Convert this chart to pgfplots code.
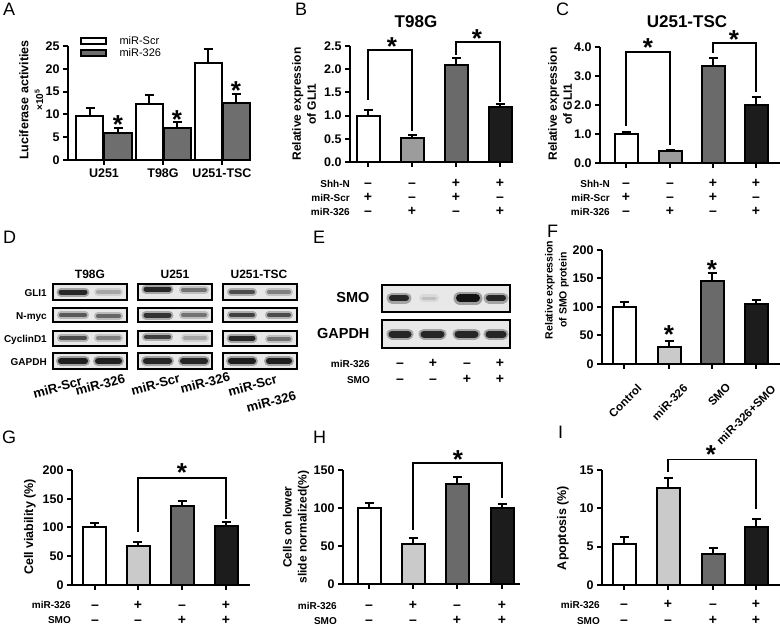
\documentclass[border=0pt]{standalone}
\usepackage{pgfplots}
\pgfplotsset{compat=1.18}
\usepackage{fontspec}
\setmainfont{Liberation Sans}
\newcommand\fs[2]{\fontsize{#1}{#2}\selectfont}
\definecolor{gA}{HTML}{6E6E6E}
\definecolor{gB}{HTML}{9C9C9C}
\definecolor{gC}{HTML}{6A6A6A}
\definecolor{gD}{HTML}{1C1C1C}
\definecolor{gL}{HTML}{CACACA}
\pgfplotsset{
  gp/.style={scale only axis, clip=false, enlargelimits=false,
    axis x line=bottom, axis y line=left,
    axis line style={line width=2.4pt,-},
    tick align=outside, major tick length=5pt,
    every tick/.style={black,line width=2pt},
    xmin=0, ymin=0, anchor=south west,
    xticklabels={},
    tick label style={font=\fs{12.5}{14}\bfseries},
    /pgf/number format/assume math mode=true},
  gb/.style={ybar, bar shift=0pt, bar width=23pt, draw=black, line width=2pt, fill=#1,
    error bars/y dir=plus, error bars/y explicit,
    error bars/error bar style={line width=2pt,black},
    error bars/error mark options={rotate=90,mark size=4.5pt,line width=2pt,black}},
  br/.style={black,line width=1.5pt},
  one/.style={yticklabel style={/pgf/number format/fixed,/pgf/number format/fixed zerofill,/pgf/number format/precision=1}},
}
% overlay helpers (pixel coordinates, y from top)
\newcommand\sg[3]{\node[font=\fs{14}{14}\bfseries,anchor=base,inner sep=0pt] at (axis cs:#1,#2) {#3};}
\newcommand\srow[9]{\sg{#2}{#1}{#3}\sg{#4}{#1}{#5}\sg{#6}{#1}{#7}\sg{#8}{#1}{#9}}
\newcommand\rl[3]{\node[font=\fs{10}{10}\bfseries,anchor=base east,inner sep=0pt] at (axis cs:#1,#2) {#3};}
\newcommand\stt[2]{\node[font=\fs{26}{26}\bfseries,inner sep=0pt] at (axis cs:#1,#2) {*};}
\newcommand\boxb[4]{\addplot[fill=black!9,draw=black,line width=2.5pt] coordinates {(#1,#3) (#2,#3) (#2,#4) (#1,#4)} -- cycle;}
\newcommand\band[6]{%
  \addplot[draw=black!#4,opacity=0.35,line width=#5pt,line cap=round] coordinates {(#1,#3) (#2,#3)};
  \addplot[draw=black!#4,line width=#6pt,line cap=round] coordinates {(#1,#3) (#2,#3)};}
\begin{document}
\begin{tikzpicture}[x=1pt,y=1pt]
\useasboundingbox (0pt,0pt) rectangle (780pt,627pt);

% ---------------- A ----------------
\begin{axis}[gp, at={(68pt,467pt)}, width=182pt, height=114pt, xmax=182, ymax=25,
  ytick={0,5,...,25}, xtick={36,95,154}, xticklabels={U251,T98G,U251-TSC}]
\addplot[gb=white, bar width=27pt] coordinates {(22,9.6) +- (0,1.9) (81,12.2) +- (0,2.0) (140,21.2) +- (0,3.1)};
\addplot[gb=gA, bar width=27pt] coordinates {(50,6.0) +- (0,1.1) (109,7.1) +- (0,1.2) (168,12.6) +- (0,1.9)};
\end{axis}

% ---------------- B ----------------
\begin{axis}[gp, one, at={(350pt,465pt)}, width=163pt, height=116pt, xmax=163, ymax=2.5,
  ytick={0,0.5,...,2.5}, xtick={18,62,106,150}]
\addplot[gb=white] coordinates {(18,1.0) +- (0,0.12)};
\addplot[gb=gB] coordinates {(62,0.52) +- (0,0.06)};
\addplot[gb=gC] coordinates {(106,2.08) +- (0,0.16)};
\addplot[gb=gD] coordinates {(150,1.18) +- (0,0.07)};
\addplot[br] coordinates {(18,1.34) (18,2.41) (62,2.41) (62,0.66)};
\addplot[br] coordinates {(106,2.31) (106,2.59) (150,2.59) (150,1.30)};
\end{axis}

% ---------------- C ----------------
\begin{axis}[gp, one, at={(600pt,464pt)}, width=180pt, height=116pt, xmax=180, ymax=4,
  ytick={0,1,...,4}, xtick={26,70,113,156}]
\addplot[gb=white] coordinates {(26,1.0) +- (0,0.06)};
\addplot[gb=gB] coordinates {(70,0.4) +- (0,0.06)};
\addplot[gb=gC] coordinates {(113,3.35) +- (0,0.27)};
\addplot[gb=gD] coordinates {(156,2.0) +- (0,0.28)};
\addplot[br] coordinates {(26,1.28) (26,3.83) (70,3.83) (70,0.62)};
\addplot[br] coordinates {(113,3.79) (113,4.14) (156,4.14) (156,2.45)};
\end{axis}

% ---------------- F ----------------
\begin{axis}[gp, at={(602pt,263pt)}, width=178pt, height=114pt, xmax=178, ymax=200,
  ytick={0,50,...,200}, xtick={22,67,110,154}]
\addplot[gb=white] coordinates {(22,100) +- (0,9)};
\addplot[gb=gL] coordinates {(67,29) +- (0,12)};
\addplot[gb=gC] coordinates {(110,146) +- (0,14)};
\addplot[gb=gD] coordinates {(154,105) +- (0,8)};
\end{axis}

% ---------------- G ----------------
\begin{axis}[gp, at={(72pt,42pt)}, width=178pt, height=115pt, xmax=178, ymax=200,
  ytick={0,50,...,200}, xtick={23,66,110,154}]
\addplot[gb=white] coordinates {(23,101) +- (0,7)};
\addplot[gb=gL] coordinates {(66,68) +- (0,6)};
\addplot[gb=gC] coordinates {(110,137) +- (0,9)};
\addplot[gb=gD] coordinates {(154,103) +- (0,6)};
\addplot[br] coordinates {(66,93) (66,186) (154,186) (154,115)};
\end{axis}

% ---------------- H ----------------
\begin{axis}[gp, at={(343pt,43pt)}, width=177pt, height=114pt, xmax=177, ymax=150,
  ytick={0,50,...,150}, xtick={26,70,114,159}]
\addplot[gb=white] coordinates {(26,100) +- (0,7)};
\addplot[gb=gL] coordinates {(70,52.5) +- (0,7.5)};
\addplot[gb=gC] coordinates {(114,131) +- (0,10)};
\addplot[gb=gD] coordinates {(159,100) +- (0,5)};
\addplot[br] coordinates {(70,71) (70,159) (159,159) (159,113)};
\end{axis}

% ---------------- I ----------------
\begin{axis}[gp, at={(602pt,42pt)}, width=178pt, height=115pt, xmax=178, ymax=15,
  ytick={0,5,...,15}, xtick={22,66,111,154}]
\addplot[gb=white] coordinates {(22,5.4) +- (0,0.9)};
\addplot[gb=gL] coordinates {(66,12.7) +- (0,1.2)};
\addplot[gb=gC] coordinates {(111,4.0) +- (0,0.8)};
\addplot[gb=gD] coordinates {(154,7.6) +- (0,1.0)};
\addplot[br] coordinates {(66,14.8) (66,16.4) (154,16.4) (154,9.9)};
\end{axis}

% ---------------- overlay: text, legend, blots (pixel coordinates) ----------------
\begin{axis}[at={(0pt,0pt)}, anchor=south west, scale only axis, width=780pt, height=627pt,
  xmin=0, xmax=780, ymin=0, ymax=627, y dir=reverse, hide axis, clip=false, enlargelimits=false]
% panel letters
\foreach \L/\x/\y in {A/3/3, B/295/3, C/556/3, D/3/231, E/313/231, F/547/225, G/2/431, H/313/431, I/558/426}{
  \edef\tmp{\noexpand\node[anchor=north west,inner sep=0pt,font=\noexpand\fs{18}{18}] at (axis cs:\x,\y) {\L};}\tmp}
% legend A
\addplot[fill=white,draw=black,line width=2pt] coordinates {(81,38) (106,38) (106,44) (81,44)} -- cycle;
\addplot[fill=gA,draw=black,line width=2pt] coordinates {(81,50) (106,50) (106,56) (81,56)} -- cycle;
\node[anchor=west,font=\fs{11}{11}] at (axis cs:116,41) {miR-Scr};
\node[anchor=west,font=\fs{11}{11}] at (axis cs:116,53) {miR-326};
% y labels
\node[rotate=90,font=\fs{12.5}{15}\bfseries] at (axis cs:24,100) {Luciferase activities};
\node[rotate=90,font=\fs{10}{12}\bfseries] at (axis cs:39,100) {×10\textsuperscript{5}};
\node[rotate=90,align=center,font=\fs{12}{15}\bfseries] at (axis cs:304,104) {Relative expression\\of GLI1};
\node[rotate=90,align=center,font=\fs{12}{15}\bfseries] at (axis cs:560,104) {Relative expression\\of GLI1};
\node[rotate=90,align=center,font=\fs{10.5}{14}\bfseries] at (axis cs:557,290) {Relative expression\\of SMO protein};
\node[rotate=90,font=\fs{12.5}{15}\bfseries] at (axis cs:30,527) {Cell viability (\%)};
\node[rotate=90,align=center,font=\fs{12}{15}\bfseries] at (axis cs:296,527) {Cells on lower\\slide normalized(\%)};
\node[rotate=90,font=\fs{12.5}{15}\bfseries] at (axis cs:563,528) {Apoptosis (\%)};
% titles
\node[font=\fs{17}{17}\bfseries] at (axis cs:416,22) {T98G};
\node[font=\fs{17}{17}\bfseries] at (axis cs:687,22) {U251-TSC};
% stars
\stt{118}{125}\stt{177}{120}\stt{236}{91}
\stt{392}{47}\stt{477}{39}
\stt{648}{48}\stt{734}{40}
\stt{669}{335}\stt{712}{270}
\stt{182}{473}\stt{458}{460}\stt{711}{455}
% condition rows B
\rl{350}{187}{Shh-N}\rl{350}{201}{miR-Scr}\rl{350}{215}{miR-326}
\srow{187.5}{368}{--}{412}{--}{456}{+}{500}{+}
\srow{201.5}{368}{+}{412}{--}{456}{+}{500}{--}
\srow{215.5}{368}{--}{412}{+}{456}{--}{500}{+}
% condition rows C
\rl{610}{187}{Shh-N}\rl{610}{201}{miR-Scr}\rl{610}{215}{miR-326}
\srow{187.5}{626}{--}{670}{--}{713}{+}{756}{+}
\srow{201.5}{626}{+}{670}{--}{713}{+}{756}{--}
\srow{215.5}{626}{--}{670}{+}{713}{--}{756}{+}
% rows E
\rl{370}{367}{miR-326}\rl{370}{383}{SMO}
\srow{367.5}{400}{--}{433}{+}{467}{--}{500}{+}
\srow{383.5}{400}{--}{433}{--}{467}{+}{500}{+}
% rows G
\rl{71}{608.5}{miR-326}\rl{71}{623.5}{SMO}
\srow{609}{95}{--}{138}{+}{182}{--}{226}{+}
\srow{624}{95}{--}{138}{--}{182}{+}{226}{+}
% rows H
\rl{337}{609}{miR-326}\rl{337}{624}{SMO}
\srow{609.5}{369}{--}{413}{+}{457}{--}{502}{+}
\srow{624.5}{369}{--}{413}{--}{457}{+}{502}{+}
% rows I
\rl{600}{608}{miR-326}\rl{600}{624}{SMO}
\srow{608.5}{624}{--}{668}{+}{713}{--}{756}{+}
\srow{624.5}{624}{--}{668}{--}{713}{+}{756}{+}
% F tick labels
\node[rotate=45,anchor=east,font=\fs{11.5}{12}\bfseries] at (axis cs:642,384) {Control};
\node[rotate=45,anchor=east,font=\fs{11.5}{12}\bfseries] at (axis cs:688,384) {miR-326};
\node[rotate=45,anchor=east,font=\fs{11.5}{12}\bfseries] at (axis cs:731,383) {SMO};
\node[rotate=45,anchor=east,font=\fs{11.5}{12}\bfseries] at (axis cs:776,385) {miR-326+SMO};
% ---- D blots ----
\node[font=\fs{12}{12}\bfseries] at (axis cs:90,274) {T98G};
\node[font=\fs{12}{12}\bfseries] at (axis cs:175,274) {U251};
\node[font=\fs{12}{12}\bfseries] at (axis cs:259,274) {U251-TSC};
\rl{47}{296}{GLI1}\rl{47}{319}{N-myc}\rl{47}{342}{CyclinD1}\rl{47}{365}{GAPDH}
\boxb{53}{127}{284}{300}\boxb{53}{127}{308}{322}\boxb{53}{127}{331}{346}\boxb{53}{127}{353}{369}
\boxb{138}{212}{284}{300}\boxb{138}{212}{308}{322}\boxb{138}{212}{331}{346}\boxb{138}{212}{353}{369}
\boxb{223}{297}{284}{300}\boxb{223}{297}{308}{322}\boxb{223}{297}{331}{346}\boxb{223}{297}{353}{369}
% GLI1
\band{61}{85}{292}{85}{9}{5}\band{98}{119}{292}{35}{8}{4}
\band{146}{169}{289}{85}{9}{5}\band{183}{205}{290}{55}{8}{4}
\band{231}{253}{292}{70}{8}{4}\band{269}{289}{292}{50}{8}{4}
% N-myc
\band{61}{85}{315}{65}{8}{4}\band{98}{119}{316}{60}{8}{4}
\band{146}{169}{315}{80}{9}{5}\band{183}{205}{315}{55}{8}{4}
\band{231}{253}{315}{75}{8}{4}\band{269}{289}{315}{70}{8}{4}
% CyclinD1
\band{61}{85}{338}{70}{8}{4}\band{98}{119}{338}{50}{8}{4}
\band{146}{169}{337}{75}{8}{4}\band{185}{205}{338}{35}{8}{4}
\band{231}{253}{338}{85}{9}{5}\band{269}{289}{339}{55}{8}{4}
% GAPDH
\band{61}{85}{361}{88}{10}{6}\band{98}{119}{361}{88}{10}{6}
\band{146}{169}{361}{85}{10}{6}\band{183}{205}{361}{85}{10}{6}
\band{231}{253}{361}{88}{10}{6}\band{269}{289}{361}{88}{10}{6}
% lane labels
\foreach \x/\y/\t in {85/380/miR-Scr, 128/377/miR-326, 183/377/miR-Scr, 233/375/miR-326, 280/378/miR-Scr, 299/394/miR-326}{
  \edef\tmp{\noexpand\node[rotate=15,anchor=east,font=\noexpand\fs{13}{13}\noexpand\bfseries] at (axis cs:\x,\y) {\t};}\tmp}
% ---- E blots ----
\node[anchor=east,font=\fs{14.5}{15}\bfseries] at (axis cs:373,298) {SMO};
\node[anchor=east,font=\fs{14.5}{15}\bfseries] at (axis cs:373,334) {GAPDH};
\boxb{382}{510}{285}{312}\boxb{382}{510}{320}{348}
\band{392}{406}{298}{85}{11}{6}\band{423}{435}{298}{25}{8}{3}
\band{460}{476}{298}{92}{13}{8}\band{489}{503}{298}{85}{11}{6}
\band{392}{408}{334}{85}{11}{7}\band{424}{441}{334}{85}{11}{7}
\band{458}{475}{334}{85}{11}{7}\band{489}{503}{334}{85}{11}{7}
\end{axis}
\end{tikzpicture}
\end{document}
